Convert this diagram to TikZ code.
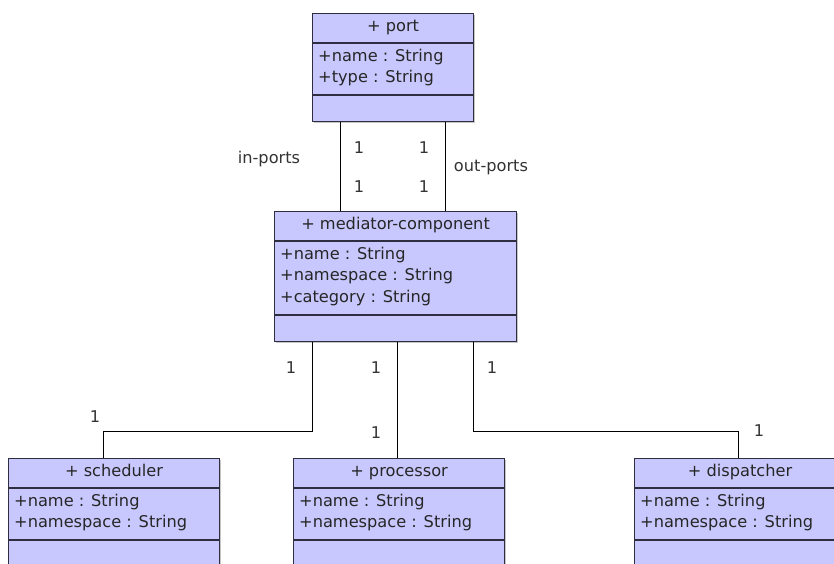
\documentclass[tikz,border=0pt]{standalone}
\usepackage{fontspec}
\setmainfont{DejaVu Sans}
\usetikzlibrary{calc}
\definecolor{boxfill}{HTML}{C8C8FF}
\definecolor{boxline}{HTML}{2E2E40}
\begin{document}
\begin{tikzpicture}[x=1pt,y=-1pt,
  every node/.style={font=\fontsize{16.2}{20}\selectfont, text=black!85, inner sep=0pt},
  umlbox/.style={draw=boxline, fill=boxfill, line width=1.1pt, rectangle, inner sep=0pt,
     anchor=north west, minimum width=#1, drop shadow/.try},
  divline/.style={draw=boxline, line width=1.1pt},
  conn/.style={draw=black, line width=0.8pt},
  title/.style={anchor=base},
  attr/.style={anchor=base west},
  mult/.style={anchor=base, text=black!80}]
\useasboundingbox (0,0) rectangle (834,563);

% shadows
\fill[gray!45] (313.5,14.5) rectangle (474.5,122.5);
\fill[gray!45] (275.5,212.5) rectangle (517.5,342.5);

% port
\node[umlbox=161pt, minimum height=108pt] (port) at (312,13) {};
\draw[divline] ($(port.north west)+(0,30)$) -- ($(port.north east)+(0,30)$);
\draw[divline] ($(port.north west)+(0,82)$) -- ($(port.north east)+(0,82)$);
\node[title] (portT) at ($(port.north)+(0,18)$) {+ port};
\node[attr] (portA1) at ($(port.north west)+(6,48)$) {+name : String};
\node[attr] (portA2) at ($(port.north west)+(6,69.5)$) {+type : String};

% mediator
\node[umlbox=242pt, minimum height=130pt] (med) at (274,211) {};
\draw[divline] ($(med.north west)+(0,30)$) -- ($(med.north east)+(0,30)$);
\draw[divline] ($(med.north west)+(0,104)$) -- ($(med.north east)+(0,104)$);
\node[title] (medT) at ($(med.north)+(0,18.5)$) {+ mediator-component};
\node[attr] (medA1) at ($(med.north west)+(6,48)$) {+name : String};
\node[attr] (medA2) at ($(med.north west)+(6,69.5)$) {+namespace : String};
\node[attr] (medA3) at ($(med.north west)+(6,91)$) {+category : String};

% bottom boxes
\foreach \nm/\xx/\tt in {sched/8/scheduler, proc/293/processor, disp/634/dispatcher}{
  \fill[gray!45] (\xx+1.5,459.5) rectangle (\xx+212.5,575);
  \node[umlbox=211pt, minimum height=115pt] (\nm) at (\xx,458) {};
  \draw[divline] ($(\nm.north west)+(0,30)$) -- ($(\nm.north east)+(0,30)$);
  \draw[divline] ($(\nm.north west)+(0,82)$) -- ($(\nm.north east)+(0,82)$);
  \node[title] (\nm T) at ($(\nm.north)+(0,18)$) {+ \tt};
  \node[attr] (\nm A1) at ($(\nm.north west)+(6,48)$) {+name : String};
  \node[attr] (\nm A2) at ($(\nm.north west)+(6,69.5)$) {+namespace : String};
}

% connectors
\draw[conn] ($(port.south)+(-52.5,0)$) -- ($(med.north)+(-55,0)$);
\draw[conn] ($(port.south)+(52.5,0)$) -- ($(med.north)+(50,0)$);
\draw[conn] ($(med.south)+(-83,0)$) -- ++(0,89) -| ($(sched.north)+(-10.5,0)$);
\draw[conn] ($(med.south)+(2,0)$) -- ($(proc.north)+(-1.5,0)$);
\draw[conn] ($(med.south)+(78,0)$) -- ++(0,89) -| ($(disp.north)+(-1.5,0)$);

% labels
\node[mult] (m1) at (359,153) {1};
\node[mult] (m2) at (424,153) {1};
\node[mult] (m3) at (359,192) {1};
\node[mult] (m4) at (424,192) {1};
\node[mult] (inp) at (269,163) {in-ports};
\node[mult] (outp) at (491,171.5) {out-ports};
\node[mult] (m5) at (291,373) {1};
\node[mult] (m6) at (376,373) {1};
\node[mult] (m7) at (492,373) {1};
\node[mult] (m8) at (95,422) {1};
\node[mult] (m9) at (376,438.5) {1};
\node[mult] (m10) at (759,436.5) {1};
\end{tikzpicture}
\end{document}
